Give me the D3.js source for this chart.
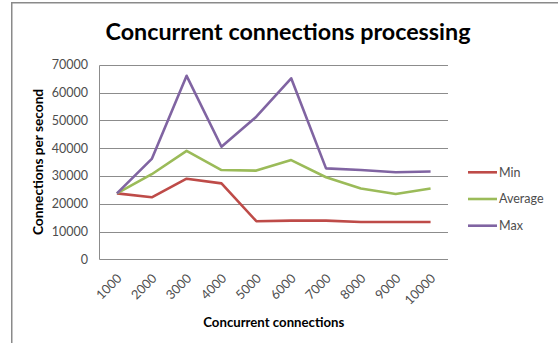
<!DOCTYPE html>
<html><head><meta charset="utf-8">
<script src="https://cdn.jsdelivr.net/npm/d3@7"></script>
<style>
html,body{margin:0;padding:0;background:#fff;}
svg{display:block;font-family:Lato,"Open Sans",sans-serif;}
</style></head>
<body>
<svg id="chart" width="558" height="343"></svg>
<script>
const categories = ["1000","2000","3000","4000","5000","6000","7000","8000","9000","10000"];
const minValues = [23700,22300,29000,27300,13700,13900,13900,13400,13400,13400];
const avgValues = [23700,30600,39000,32100,31900,35700,29500,25500,23500,25500];
const maxValues = [23700,36100,66000,40500,51300,65100,32700,32100,31300,31600];
const yTicks = [0,10000,20000,30000,40000,50000,60000,70000];
const seriesNames = ["Min","Average","Max"];
const seriesColors = ["#BE4B48","#9BBB59","#8064A2"];
const series = [minValues, avgValues, maxValues];

(function(){
const svg = d3.select("#chart");
// frame
svg.append("path").attr("d","M11.75,343 L11.75,2.75 L558,2.75")
  .attr("fill","none").attr("stroke","#8a8a8a").attr("stroke-width",1.5);

const pL = 99.5, pR = 448, pT = 64.7, pB = 259.3;
const x = d3.scaleBand().domain(categories).range([pL,pR]);
const y = d3.scaleLinear().domain([0,70000]).range([pB,pT]);

// gridlines
svg.append("g").selectAll("line").data(yTicks).join("line")
  .attr("x1",pL).attr("x2",pR)
  .attr("y1",d=>Math.round(y(d))+0.5).attr("y2",d=>Math.round(y(d))+0.5)
  .attr("stroke","#8c8c8c").attr("stroke-width",1);
svg.append("line").attr("x1",pL).attr("x2",pL).attr("y1",Math.round(y(70000))+0.5).attr("y2",Math.round(y(0))+0.5)
  .attr("stroke","#8c8c8c");

// y axis labels
const yAxis = d3.axisLeft(y).tickValues(yTicks).tickSize(0).tickPadding(0).tickFormat(d=>String(d));
const yg = svg.append("g").attr("transform",`translate(${88},0)`).call(yAxis);
yg.select(".domain").remove();
yg.selectAll("text").attr("font-family","Lato,'Open Sans',sans-serif").attr("font-size",12.5).attr("fill","#4d4d4d");

// x axis labels
const xg = svg.append("g");
xg.selectAll("text").data(categories).join("text")
  .attr("transform",d=>`translate(${x(d)+x.bandwidth()/2+2.5},${276}) rotate(-45)`)
  .attr("text-anchor","end").attr("dy","0.35em")
  .attr("font-size",12.8).attr("fill","#4d4d4d").text(d=>d);

// lines
const line = d3.line().x((d,i)=>x(categories[i])+x.bandwidth()/2).y(d=>y(d));
series.forEach((s,k)=>{
  svg.append("path").datum(s).attr("d",line).attr("fill","none")
    .attr("stroke",seriesColors[k]).attr("stroke-width",2.6).attr("stroke-linejoin","round");
});

// title
svg.append("text").attr("x",288).attr("y",40).attr("text-anchor","middle")
  .attr("font-size",23.3).attr("font-weight","bold").attr("fill","#000")
  .text("Concurrent connections processing");

// axis titles
svg.append("text").attr("x",(pL+pR)/2).attr("y",327).attr("text-anchor","middle")
  .attr("font-size",13.2).attr("font-weight","bold").attr("fill","#000").text("Concurrent connections");
svg.append("text").attr("transform",`translate(43,${(pT+pB)/2}) rotate(-90)`).attr("text-anchor","middle")
  .attr("font-size",13.7).attr("font-weight","bold").attr("fill","#000").text("Connections per second");

// legend
const legY = [172.3, 199, 225.7];
const lg = svg.append("g");
seriesNames.forEach((n,k)=>{
  lg.append("line").attr("x1",468).attr("x2",497).attr("y1",legY[k]).attr("y2",legY[k])
    .attr("stroke",seriesColors[k]).attr("stroke-width",2.6);
  lg.append("text").attr("x",499).attr("y",legY[k]).attr("dy","0.35em")
    .attr("font-size",12.5).attr("fill","#4d4d4d").text(n);
});
})();
</script>
</body></html>
